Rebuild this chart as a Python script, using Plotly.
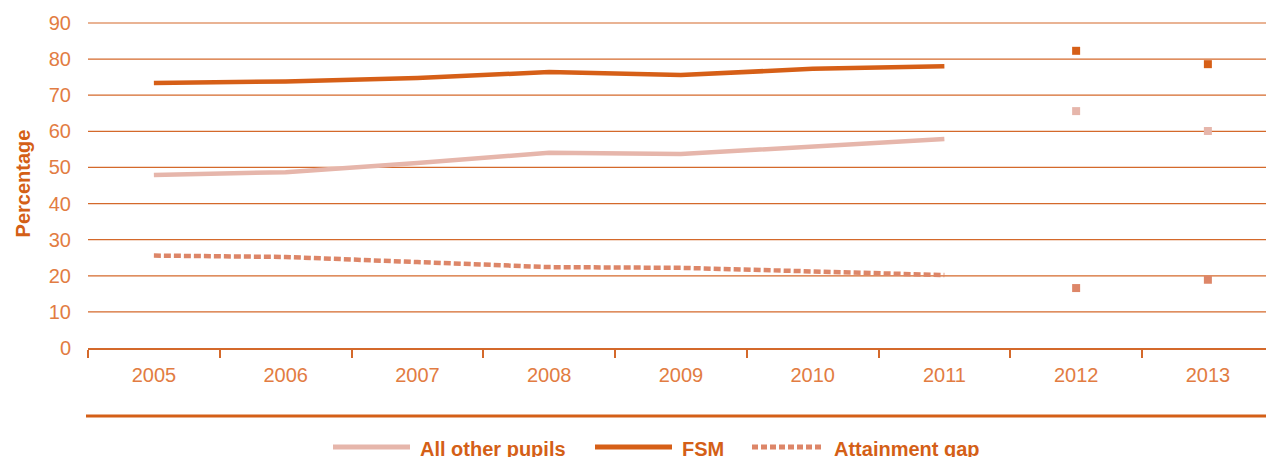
import plotly.graph_objects as go

# Key Stage attainment: FSM vs all other pupils
years = ["2005", "2006", "2007", "2008", "2009", "2010", "2011", "2012", "2013"]
all_other = [47.9, 48.7, 51.2, 54.1, 53.7, 55.9, 57.9, 65.6, 60.1]
fsm = [73.4, 73.8, 74.8, 76.4, 75.6, 77.3, 78.0, 82.3, 78.6]
gap = [25.6, 25.2, 23.8, 22.4, 22.2, 21.3, 20.2, 16.6, 18.9]
y_ticks = [0, 10, 20, 30, 40, 50, 60, 70, 80, 90]

# the first seven years are drawn as lines, the last two as stand-alone points
n_line = 7

C_FSM = "rgb(214,95,23)"
C_OTHER = "rgb(230,182,171)"
C_GAP = "rgb(221,134,104)"
C_AXIS = "rgb(212,105,43)"
C_TICK = "rgb(226,124,66)"
C_TEXT = "rgb(212,95,23)"
FONT = "Liberation Sans, Arial, sans-serif"

W, H = 1266, 457
ML, MR, MT, MB = 88, 0, 19, 109
PW, PH = W - ML - MR, H - MT - MB
Y_TOP = 90 * PH / 325  # a little head-room so the 90 rule is drawn


def px_x(px):
    return (px - ML) / PW


def px_y(py):
    return (H - MB - py) / PH


fig = go.Figure()

series = [
    ("All other pupils", all_other, C_OTHER, "solid"),
    ("FSM", fsm, C_FSM, "solid"),
    ("Attainment gap", gap, C_GAP, "7px,3px"),
]

for name, vals, col, dash in series:
    fig.add_trace(go.Scatter(
        x=years[:n_line], y=vals[:n_line], mode="lines", name=name,
        line=dict(color=col, width=4.5, dash=dash, shape="linear"),
        showlegend=False, hoverinfo="skip",
    ))
    fig.add_trace(go.Scatter(
        x=years[n_line:], y=vals[n_line:], mode="markers", name=name,
        marker=dict(color=col, size=8, symbol="square", line=dict(width=0)),
        showlegend=False, hoverinfo="skip",
    ))

# horizontal value rules, placed on the y scale
shapes = [dict(type="line", xref="paper", yref="y", layer="below",
               x0=0, x1=1, y0=v, y1=v, line=dict(color=C_AXIS, width=1.2))
          for v in y_ticks[1:]]

# separator rule above the key
shapes.append(dict(type="line", xref="paper", yref="paper",
                   x0=px_x(86), x1=px_x(W + 5), y0=px_y(416), y1=px_y(416),
                   line=dict(color=C_TEXT, width=3)))
annotations = []

# key entries: swatch start, swatch end, label start
key = [
    ("All other pupils", C_OTHER, "solid", 333, 410, 418),
    ("FSM", C_FSM, "solid", 595, 672, 680),
    ("Attainment gap", C_GAP, "6px,3px", 752, 823, 832),
]
KEY_Y = 447
for label, col, dash, s0, s1, tx in key:
    shapes.append(dict(type="line", xref="paper", yref="paper",
                       x0=px_x(s0), x1=px_x(s1), y0=px_y(KEY_Y), y1=px_y(KEY_Y),
                       line=dict(color=col, width=5, dash=dash)))
    annotations.append(dict(xref="paper", yref="paper", x=px_x(tx), y=px_y(KEY_Y + 2),
                            xanchor="left", yanchor="middle", showarrow=False,
                            text="<b>%s</b>" % label,
                            font=dict(family=FONT, size=20, color=C_TEXT)))

fig.update_layout(
    template="none",
    width=W, height=H,
    margin=dict(l=ML, r=MR, t=MT, b=MB, pad=0),
    paper_bgcolor="white", plot_bgcolor="white",
    shapes=shapes, annotations=annotations,
    showlegend=False,
)

fig.update_xaxes(
    type="category", categoryorder="array", categoryarray=years,
    range=[-0.5, -0.5 + PW / 131.75],
    showgrid=False, zeroline=False,
    showline=True, linecolor=C_AXIS, linewidth=1.5,
    ticks="outside", tickson="boundaries", ticklen=8, tickwidth=1.5, tickcolor=C_AXIS,
    tickfont=dict(family=FONT, size=20, color=C_TICK),
    ticklabelstandoff=8,
)

fig.update_yaxes(
    range=[0, Y_TOP], tickvals=y_ticks,
    showgrid=False, zeroline=False, showline=False, ticks="",
    tickfont=dict(family=FONT, size=20, color=C_TICK),
    ticklabelstandoff=16,
    title=dict(text="<b>Percentage</b>", font=dict(family=FONT, size=20, color=C_TEXT), standoff=12),
)

fig.write_html("out.html")
